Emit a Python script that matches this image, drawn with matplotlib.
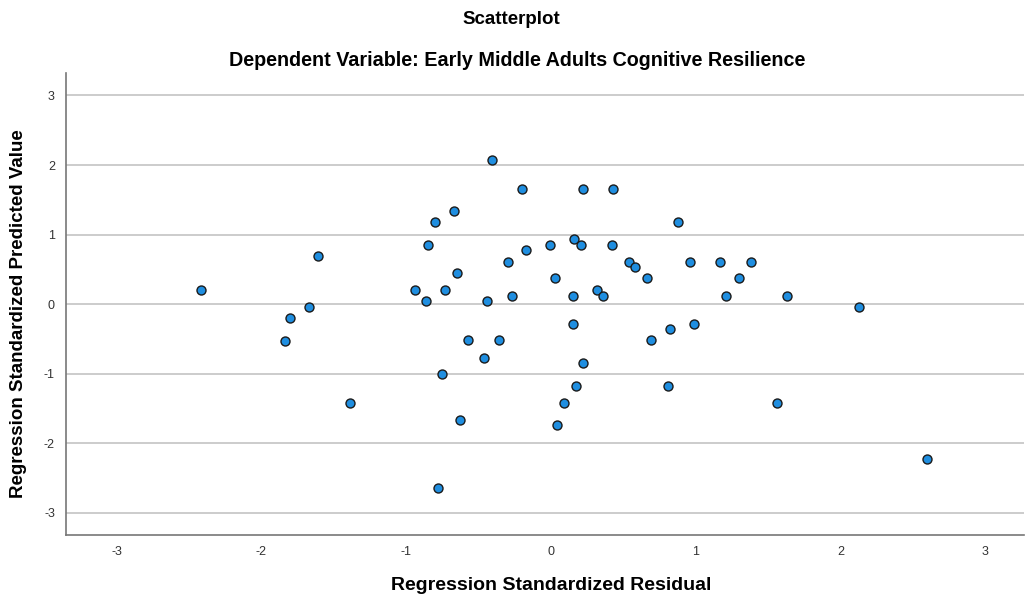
# SPSS-style residual scatterplot
import numpy as np
import matplotlib.pyplot as plt

plt.rcParams['font.family'] = ['Liberation Sans', 'DejaVu Sans']
plt.rcParams['axes.unicode_minus'] = False

# Regression standardized residual (x) and predicted value (y)
residual = [-2.42, -1.61, -1.67, -1.80, -1.84, -1.39, -0.41, -0.20, 0.22, 0.43,
            -0.67, -0.80, 0.88, -0.85, -0.01, 0.16, 0.21, 0.42, -0.17, -0.30,
            0.54, 0.58, 0.96, -0.65, 0.03, 0.66, -0.94, -0.73, 0.32, -0.86,
            -0.44, -0.27, 0.15, 0.36, 0.15, -0.57, -0.36, 0.69, 0.82, 0.99,
            -0.46, 0.22, -0.75, 0.17, 0.81, 0.09, -0.63, 0.04, -0.78, 1.17,
            1.38, 1.30, 1.21, 1.63, 2.13, 1.56, 2.60]
predicted = [0.20, 0.69, -0.04, -0.20, -0.53, -1.42, 2.07, 1.66, 1.66, 1.66,
             1.34, 1.18, 1.18, 0.85, 0.85, 0.94, 0.85, 0.85, 0.78, 0.61,
             0.61, 0.53, 0.61, 0.45, 0.37, 0.37, 0.21, 0.21, 0.21, 0.04,
             0.04, 0.12, 0.12, 0.12, -0.28, -0.52, -0.52, -0.52, -0.36, -0.28,
             -0.77, -0.85, -1.01, -1.18, -1.18, -1.42, -1.66, -1.74, -2.64, 0.61,
             0.61, 0.37, 0.12, 0.12, -0.04, -1.42, -2.23]
ticks = [-3, -2, -1, 0, 1, 2, 3]

fig = plt.figure(figsize=(10.25, 6), dpi=100)
ax = fig.add_axes([0.0644, 0.108, 0.935, 0.77])

ax.scatter(residual, predicted, s=42, color='#1f8ee0', edgecolors='#1a1a1a',
           linewidths=1.0, zorder=3)

ax.set_xlim(-3.35, 3.27)
ax.set_ylim(-3.32, 3.32)
ax.set_xticks(ticks)
ax.set_yticks(ticks)
ax.tick_params(length=0, labelsize=9, colors='#333333', pad=8)
ax.grid(axis='y', color='#c8c8c8', linewidth=1.3, zorder=0)
ax.set_axisbelow(True)

for side in ['top', 'right']:
    ax.spines[side].set_visible(False)
for side in ['left', 'bottom']:
    ax.spines[side].set_color('#777777')
    ax.spines[side].set_linewidth(1.2)

fig.text(0.499, 0.967, 'Scatterplot', ha='center', va='center',
         fontsize=13.5, fontweight='bold')
fig.text(0.505, 0.899, 'Dependent Variable: Early Middle Adults Cognitive Resilience',
         ha='center', va='center', fontsize=14.2, fontweight='bold')
fig.text(0.538, 0.025, 'Regression Standardized Residual', ha='center',
         va='center', fontsize=14, fontweight='bold')
fig.text(0.018, 0.477, 'Regression Standardized Predicted Value', ha='center',
         va='center', rotation=90, fontsize=13.5, fontweight='bold')

fig.savefig('out.png', dpi=100)
